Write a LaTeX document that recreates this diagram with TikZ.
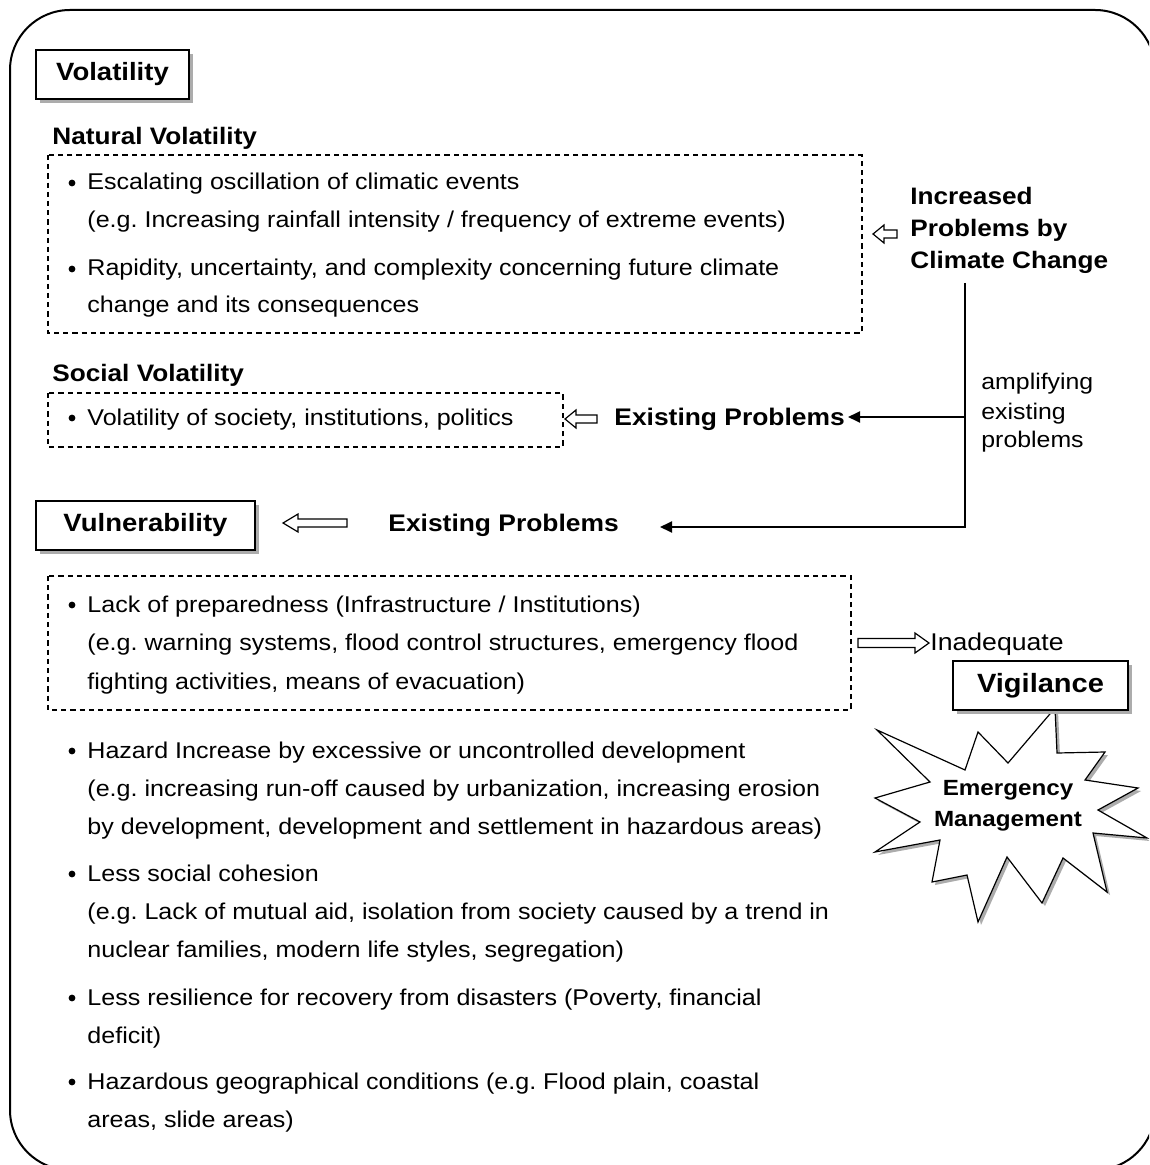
\documentclass[tikz,border=0pt]{standalone}
\usepackage{fontspec}
\setmainfont{Liberation Sans}[FakeStretch=1.1]
\usetikzlibrary{arrows.meta}
\frenchspacing

% font sizes
\newcommand\bodyfont{\fontsize{11.4}{19}\selectfont}
\newcommand\headfont{\fontsize{11.9}{19}\selectfont\bfseries}
\newcommand\boxfont{\fontsize{12.5}{19}\selectfont\bfseries}

% hollow block arrow pointing left: tip x, tail x, y, head length
\newcommand\leftblock[4]{%
  \draw[blockarrow] (#1,#3) -- ++(#4,-9) -- ++(0,5) -- (#2,#3-4) -- (#2,#3+4)
    -- (#1+#4,#3+4) -- ++(0,5) -- cycle;}
% hollow block arrow pointing right: tail x, tip x, y, head length
\newcommand\rightblock[4]{%
  \draw[blockarrow] (#2,#3) -- ++(-#4,-10) -- ++(0,5.5) -- (#1,#3-4.5) -- (#1,#3+4.5)
    -- (#2-#4,#3+4.5) -- ++(0,5.5) -- cycle;}
% list dot left of a text line with the given baseline
\newcommand\listdot[1]{\fill (72,#1-7) circle[radius=1.7pt];}

\tikzset{
  txt/.style={anchor=base west, inner sep=0pt, font=\bodyfont},
  head/.style={anchor=base west, inner sep=0pt, font=\headfont},
  titlebox/.style={draw, fill=white, line width=0.75pt, inner sep=0pt,
    minimum height=24.5pt, font=\boxfont},
  shadowbox/.style={fill=gray!65, draw=none, inner sep=0pt, minimum height=24.5pt},
  dashbox/.style={draw, line width=0.6pt, dash pattern=on 2.6pt off 2pt},
  blockarrow/.style={draw, fill=white, line width=0.6pt, line join=miter},
  link/.style={line width=1pt, -{Triangle[length=6pt,width=5.5pt]}},
}

\begin{document}
\begin{tikzpicture}[x=0.5pt, y=-0.5pt]
\useasboundingbox (0,0) rectangle (1149,1165);
\clip (0,0) rectangle (1149,1165);
\fill[white] (0,0) rectangle (1149,1165);

% outer frame
\draw[line width=1pt, rounded corners=30pt] (10,10) rectangle (1155,1170);

% ---------- Volatility ----------
\node[shadowbox, minimum width=76.5pt] at (116.5,78.5) {};
\node[titlebox, minimum width=76.5pt] (vol) at (112.5,74.5) {Volatility};

\node[head] (natural) at (52,145) {Natural Volatility};
\draw[dashbox] (48,155) rectangle (862,333);
\listdot{190}
\node[txt] (n1) at (87,190) {Escalating oscillation of climatic events};
\node[txt] (n2) at (87,228) {(e.g. Increasing rainfall intensity / frequency of extreme events)};
\listdot{276}
\node[txt] (n3) at (87,276) {Rapidity, uncertainty, and complexity concerning future climate};
\node[txt] (n4) at (87,313) {change and its consequences};

\leftblock{873}{897}{234}{11}
\node[head] (inc1) at (910,205) {Increased};
\node[head] (inc2) at (910,237) {Problems by};
\node[head] (inc3) at (910,269) {Climate Change};

\node[head] (social) at (52,382) {Social Volatility};
\draw[dashbox] (48,393) rectangle (563,447);
\listdot{425}
\node[txt] (s1) at (87,425) {Volatility of society, institutions, politics};

\leftblock{565}{597}{419}{11}
\node[head, font=\fontsize{12}{19}\selectfont\bfseries] (ep1) at (614,425) {Existing Problems};

% amplification connectors
\coordinate (trunk) at (965,283);
\coordinate (fork) at (965,417);
\coordinate (tip1) at (848,417);
\coordinate (tip2) at (660,527);
\draw[link] (trunk) |- (tip2);
\draw[link] (fork) -- (tip1);
\node[txt, font=\fontsize{11.3}{14.5}\selectfont] (amp1) at (981,390) {amplifying};
\node[txt, font=\fontsize{11.3}{14.5}\selectfont] (amp2) at (981,419) {existing};
\node[txt, font=\fontsize{11.3}{14.5}\selectfont] (amp3) at (981,447) {problems};

% ---------- Vulnerability ----------
\node[shadowbox, minimum width=109.5pt] at (149.5,529.5) {};
\node[titlebox, minimum width=109.5pt] (vul) at (145.5,525.5) {Vulnerability};
\leftblock{283}{347}{523}{15}
\node[head, font=\fontsize{12}{19}\selectfont\bfseries] (ep2) at (388,531) {Existing Problems};

\draw[dashbox] (48,576) rectangle (851,710);
\listdot{612}
\node[txt] (v1) at (87,612) {Lack of preparedness (Infrastructure / Institutions)};
\node[txt] (v2) at (87,650) {(e.g. warning systems, flood control structures, emergency flood};
\node[txt] (v3) at (87,689) {fighting activities, means of evacuation)};

\rightblock{858}{929}{643}{14}
\node[txt, font=\fontsize{12.1}{19}\selectfont] (inad) at (930,650) {Inadequate};

\listdot{758}
\node[txt] (h1) at (87,758) {Hazard Increase by excessive or uncontrolled development};
\node[txt] (h2) at (87,796) {(e.g. increasing run-off caused by urbanization, increasing erosion};
\node[txt] (h3) at (87,834) {by development, development and settlement in hazardous areas)};
\listdot{881}
\node[txt] (c1) at (87,881) {Less social cohesion};
\node[txt] (c2) at (87,919) {(e.g. Lack of mutual aid, isolation from society caused by a trend in};
\node[txt] (c3) at (87,957) {nuclear families, modern life styles, segregation)};
\listdot{1005}
\node[txt] (r1) at (87,1005) {Less resilience for recovery from disasters (Poverty, financial};
\node[txt] (r2) at (87,1043) {deficit)};
\listdot{1089}
\node[txt] (g1) at (87,1089) {Hazardous geographical conditions (e.g. Flood plain, coastal};
\node[txt] (g2) at (87,1127) {areas, slide areas)};

% ---------- Vigilance ----------
\def\burst{(1055,708) -- (1057,753) -- (1105,752) -- (1085,780) -- (1138,788)
  -- (1098,810) -- (1147,838) -- (1093,833) -- (1107,892) -- (1063,858)
  -- (1042,903) -- (1007,857) -- (978,922) -- (967,875) -- (932,882)
  -- (940,840) -- (875,852) -- (920,822) -- (875,798) -- (930,782)
  -- (877,730) -- (965,770) -- (978,732) -- (1008,763) -- cycle}
\fill[gray!65, shift={(3,3)}] \burst;
\draw[fill=white, line width=0.6pt, line join=miter] \burst;
\node[align=center, inner sep=0pt, font=\fontsize{11}{15.5}\selectfont\bfseries]
  (em) at (1008,806) {Emergency\\Management};

\node[shadowbox, minimum width=87.5pt] at (1044.5,689.5) {};
\node[titlebox, minimum width=87.5pt, font=\fontsize{13.2}{19}\selectfont\bfseries]
  (vig) at (1040.5,685.5) {Vigilance};
\end{tikzpicture}
\end{document}
